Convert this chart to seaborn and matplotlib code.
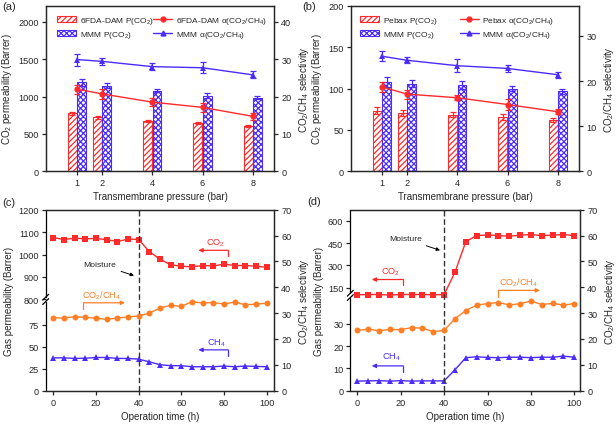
import numpy as np
import pandas as pd
import seaborn as sns
import matplotlib.pyplot as plt
from matplotlib.patches import Patch
from matplotlib.lines import Line2D

sns.set_theme(style='ticks')
plt.rcParams['font.family'] = ['Liberation Sans', 'DejaVu Sans']
plt.rcParams['mathtext.fontset'] = 'custom'
plt.rcParams['mathtext.rm'] = 'Liberation Sans'
plt.rcParams['mathtext.it'] = 'Liberation Sans:italic'
plt.rcParams['mathtext.bf'] = 'Liberation Sans:bold'
plt.rcParams['hatch.linewidth'] = 0.9
plt.rcParams['axes.linewidth'] = 0.9
plt.rcParams['xtick.major.width'] = 0.9
plt.rcParams['ytick.major.width'] = 0.9
plt.rcParams['xtick.major.size'] = 3
plt.rcParams['ytick.major.size'] = 3
plt.rcParams['xtick.labelsize'] = 6.6
plt.rcParams['ytick.labelsize'] = 6.6
plt.rcParams['axes.labelsize'] = 7
plt.rcParams['xtick.major.pad'] = 2
plt.rcParams['ytick.major.pad'] = 2

RED = '#ff2a2a'
BLUE = '#4a2cff'
ORANGE = '#ff7f27'

# ---- (a) 6FDA-DAM vs MMM, pressure series
pressure = [1, 2, 4, 6, 8]
dam_perm = [777, 723, 674, 647, 603]
dam_perm_err = [20, 18, 12, 18, 14]
mmm_a_perm = [1190, 1147, 1080, 1009, 987]
mmm_a_perm_err = [45, 30, 25, 35, 20]
dam_sel = [22.0, 20.7, 18.5, 17.1, 14.7]
dam_sel_err = [1.2, 1.3, 1.0, 1.2, 1.0]
mmm_a_sel = [29.9, 29.4, 28.0, 27.7, 25.8]
mmm_a_sel_err = [1.6, 0.9, 1.0, 1.5, 0.9]

# ---- (b) Pebax vs MMM, pressure series
pebax_perm = [73.4, 70.6, 68.5, 65.9, 61.9]
pebax_perm_err = [4, 3.5, 3, 3.5, 2]
mmm_b_perm = [107.7, 106.0, 104.0, 100.0, 96.5]
mmm_b_perm_err = [6, 4, 4.5, 3.5, 3]
pebax_sel = [18.7, 17.1, 16.3, 14.8, 13.2]
pebax_sel_err = [1.2, 1.0, 0.5, 1.2, 0.6]
mmm_b_sel = [25.5, 24.6, 23.4, 22.8, 21.4]
mmm_b_sel_err = [1.1, 0.7, 1.4, 0.7, 0.7]

# ---- (c)/(d) humidity test over time
hours = list(range(0, 101, 5))
c_co2 = [1075, 1067, 1073, 1070, 1072, 1066, 1058, 1069, 1067, 1013, 979,
         954, 948, 945, 951, 949, 957, 951, 951, 948, 943]
c_sel = [28.2, 28.1, 28.6, 28.4, 28.0, 27.6, 28.1, 28.5, 28.9, 30.0, 32.0,
         33.0, 32.6, 34.4, 33.9, 34.1, 33.5, 34.3, 33.2, 33.5, 33.8]
c_ch4 = [37.3, 37.3, 36.6, 36.9, 37.7, 37.7, 36.6, 36.6, 35.8, 32.8, 29.5,
         28.4, 28.4, 27.2, 27.2, 27.2, 28.0, 27.2, 28.0, 27.6, 27.2]
d_co2 = [103, 105, 105, 101, 105, 105, 105, 103, 105, 255, 461,
         501, 505, 501, 497, 504, 508, 501, 504, 508, 501]
d_sel = [23.3, 23.8, 23.2, 23.7, 23.6, 24.4, 24.2, 22.8, 23.3, 27.9, 31.0,
         33.1, 33.7, 34.1, 33.2, 33.6, 34.7, 33.3, 33.8, 33.1, 33.7]
d_ch4 = [4.3, 4.4, 4.5, 4.3, 4.5, 4.3, 4.4, 4.4, 4.4, 9.4, 14.8,
         15.2, 14.9, 14.8, 15.0, 15.0, 14.8, 15.0, 15.0, 15.5, 15.0]

W, H = 616, 427


def px_axes(fig, left, right, top, bottom):
    return fig.add_axes([left / W, 1 - bottom / H, (right - left) / W, (bottom - top) / H])


def broken_scale(lo_top, hi_start, brk, factor):
    def fwd(v):
        v = np.asarray(v, dtype=float)
        gap = lo_top + (v - lo_top) * (brk - lo_top) / (hi_start - lo_top)
        return np.where(v <= lo_top, v, np.where(v < hi_start, gap, brk + (v - hi_start) / factor))

    def inv(u):
        u = np.asarray(u, dtype=float)
        gap = lo_top + (u - lo_top) * (hi_start - lo_top) / (brk - lo_top)
        return np.where(u <= lo_top, u, np.where(u < brk, gap, hi_start + (u - brk) * factor))
    return fwd, inv


def pressure_panel(ax, names, perm, perm_err, mmm_perm, mmm_perm_err,
                   sel, sel_err, mmm_sel, mmm_sel_err, ylim, yticks, rlim, rticks,
                   leg_x1, leg_x2):
    df = pd.DataFrame({'p': pressure * 2, 'perm': perm + mmm_perm,
                       'grp': [names[0]] * 5 + ['MMM'] * 5})
    sns.barplot(data=df, x='p', y='perm', hue='grp', native_scale=True, width=0.74,
                gap=0.04, errorbar=None, palette=[RED, BLUE], legend=False, ax=ax)
    for cont, col, hatch, err in zip(ax.containers, [RED, BLUE], ['//////', 'xxxxxx'],
                                     [perm_err, mmm_perm_err]):
        xs = []
        for bar in cont:
            bar.set_facecolor('white')
            bar.set_edgecolor(col)
            bar.set_hatch(hatch)
            bar.set_linewidth(0.8)
            xs.append(bar.get_x() + bar.get_width() / 2)
        vals = [b.get_height() for b in cont]
        ax.errorbar(xs, vals, yerr=err, fmt='none', ecolor=col, elinewidth=0.9,
                    capsize=2.3, capthick=0.9)
    ax.set_xlim(-0.25, 8.86)
    ax.set_xticks(pressure)
    ax.set_xticklabels([str(p) for p in pressure])
    ax.set_ylim(*ylim)
    ax.set_yticks(yticks)
    ax.set_xlabel('Transmembrane pressure (bar)', labelpad=3)
    ax.set_ylabel('CO$_2$ permeability (Barrer)', labelpad=3)

    ax2 = ax.twinx()
    sns.lineplot(x=pressure, y=sel, ax=ax2, color=RED, marker='o', markersize=4.5,
                 markeredgewidth=0, lw=1.0)
    ax2.errorbar(pressure, sel, yerr=sel_err, fmt='none', ecolor=RED, elinewidth=0.9,
                 capsize=2.3, capthick=0.9)
    sns.lineplot(x=pressure, y=mmm_sel, ax=ax2, color=BLUE, marker='^', markersize=4.5,
                 markeredgewidth=0, lw=1.0)
    ax2.errorbar(pressure, mmm_sel, yerr=mmm_sel_err, fmt='none', ecolor=BLUE,
                 elinewidth=0.9, capsize=2.3, capthick=0.9)
    ax2.set_ylim(*rlim)
    ax2.set_yticks(rticks)
    ax2.set_ylabel('CO$_2$/CH$_4$ selectivity', labelpad=4)

    bar_handles = [Patch(facecolor='white', edgecolor=RED, hatch='//////', lw=0.8),
                   Patch(facecolor='white', edgecolor=BLUE, hatch='xxxxxx', lw=0.8)]
    line_handles = [Line2D([], [], color=RED, marker='o', markersize=3.5, lw=1.0),
                    Line2D([], [], color=BLUE, marker='^', markersize=3.5, lw=1.0)]
    kw = dict(frameon=False, fontsize=6.0, borderpad=0, borderaxespad=0,
              handlelength=2.25, handleheight=0.8, handletextpad=0.45, labelspacing=0.35)
    leg1 = ax2.legend(bar_handles, [f'{names[0]} P(CO$_2$)', 'MMM P(CO$_2$)'],
                      loc='upper left', bbox_to_anchor=(leg_x1, 0.945), **kw)
    ax2.add_artist(leg1)
    ax2.legend(line_handles, [f'{names[0]} α(CO$_2$/CH$_4$)', 'MMM α(CO$_2$/CH$_4$)'],
               loc='upper left', bbox_to_anchor=(leg_x2, 0.945), **kw)
    return ax2


def bent_arrow(ax, x0, x1, y, ytail, color):
    ax.plot([x0, x0], [ytail, y], color=color, lw=0.9)
    ax.annotate('', xy=(x1, y), xytext=(x0, y),
                arrowprops=dict(arrowstyle='-|>', color=color, lw=0.9,
                                mutation_scale=6, shrinkA=0, shrinkB=0))


def time_panel(ax, co2, sel, ch4, scale, ylim, yticks, xlim, brk_frac):
    fwd, inv = scale
    ax.set_yscale('function', functions=(fwd, inv))
    sns.lineplot(x=hours, y=co2, ax=ax, color=RED, marker='s', markersize=3.8,
                 markeredgewidth=0, lw=1.0)
    sns.lineplot(x=hours, y=ch4, ax=ax, color=BLUE, marker='^', markersize=4.3,
                 markeredgewidth=0, lw=1.0)
    ax.set_ylim(*ylim)
    ax.set_yticks(yticks)
    ax.set_yticklabels([str(t) for t in yticks])
    ax.minorticks_off()
    ax.set_xlim(*xlim)
    ax.set_xticks([0, 20, 40, 60, 80, 100])
    ax.set_xlabel('Operation time (h)', labelpad=3)
    ax.set_ylabel('Gas permeability (Barrer)', labelpad=3)
    ax.axvline(40, color='#333333', lw=1.0, ls=(0, (4, 2)))

    ax2 = ax.twinx()
    sns.lineplot(x=hours, y=sel, ax=ax2, color=ORANGE, marker='o', markersize=4.3,
                 markeredgewidth=0, lw=1.0)
    ax2.set_ylim(0, 70)
    ax2.set_yticks(range(0, 71, 10))
    ax2.set_ylabel('CO$_2$/CH$_4$ selectivity', labelpad=4)

    # broken left axis
    for a in (ax, ax2):
        a.spines['left'].set_visible(False)
    g = 0.012
    spine_kw = dict(transform=ax.transAxes, color='black', lw=0.9, clip_on=False)
    ax.plot([0, 0], [0, brk_frac - g], **spine_kw)
    ax.plot([0, 0], [brk_frac + g, 1], **spine_kw)
    for dy in (-g, g):
        ax.plot([-0.013, 0.013], [brk_frac + dy - 0.016, brk_frac + dy + 0.016], **spine_kw)
    return ax2


fig = plt.figure(figsize=(W / 100, H / 100), dpi=100)

ax_a = px_axes(fig, 45.7, 274.3, 6.7, 172.3)
pressure_panel(ax_a, ['6FDA-DAM'], dam_perm, dam_perm_err, mmm_a_perm, mmm_a_perm_err,
               dam_sel, dam_sel_err, mmm_a_sel, mmm_a_sel_err,
               (0, 2215), [0, 500, 1000, 1500, 2000], (0, 44.3), [0, 10, 20, 30, 40],
               0.051, 0.47)

ax_b = px_axes(fig, 350.7, 579.3, 6.7, 172.3)
pressure_panel(ax_b, ['Pebax'], pebax_perm, pebax_perm_err, mmm_b_perm, mmm_b_perm_err,
               pebax_sel, pebax_sel_err, mmm_b_sel, mmm_b_sel_err,
               (0, 200), [0, 50, 100, 150, 200], (0, 36.7), [0, 10, 20, 30],
               0.041, 0.478)

# (c)
ax_c = px_axes(fig, 45.7, 274.3, 210.7, 391.7)
scale_c = broken_scale(100, 800, 103.7, 3.93)
ax_c2 = time_panel(ax_c, c_co2, c_sel, c_ch4, scale_c, (0, 1200),
                   [0, 25, 50, 75, 800, 900, 1000, 1100, 1200], (-3.6, 103.6),
                   103.7 / float(scale_c[0](1200)))
tk = dict(fontsize=6.6, ha='center', va='center')
ax_c2.text(75.9, 57.4, 'CO$_2$', color=RED, **tk)
bent_arrow(ax_c2, 82, 68, 54.3, 52.0, RED)
ax_c2.text(22.7, 37.3, 'CO$_2$/CH$_4$', color=ORANGE, **tk)
bent_arrow(ax_c2, 14.1, 33.6, 34.0, 31.7, ORANGE)
ax_c2.text(76.3, 18.6, 'CH$_4$', color=BLUE, **tk)
bent_arrow(ax_c2, 82, 68, 15.8, 13.5, BLUE)
ax_c2.annotate('Moisture', xy=(37.8, 44.5), xytext=(21.9, 48.8), fontsize=6.1,
               ha='center', va='center',
               arrowprops=dict(arrowstyle='-|>', color='black', lw=0.7,
                               mutation_scale=5, shrinkA=1, shrinkB=0))

# (d)
ax_d = px_axes(fig, 350.3, 580.3, 210.7, 391.7)
scale_d = broken_scale(40, 99, 42.7, 15)
ax_d2 = time_panel(ax_d, d_co2, d_sel, d_ch4, scale_d, (0, 675),
                   [0, 10, 20, 30, 150, 300, 450, 600], (-3.3, 102.8),
                   42.7 / float(scale_d[0](675)))
ax_d2.text(15.1, 46.2, 'CO$_2$', color=RED, **tk)
bent_arrow(ax_d2, 21.2, 6.6, 43.0, 40.7, RED)
ax_d2.text(74.2, 42.3, 'CO$_2$/CH$_4$', color=ORANGE, **tk)
bent_arrow(ax_d2, 65.0, 84.2, 38.8, 36.3, ORANGE)
ax_d2.text(15.5, 13.5, 'CH$_4$', color=BLUE, **tk)
bent_arrow(ax_d2, 21.2, 6.6, 9.6, 7.3, BLUE)
ax_d2.annotate('Moisture', xy=(38.1, 54.3), xytext=(22.1, 58.7), fontsize=6.1,
               ha='center', va='center',
               arrowprops=dict(arrowstyle='-|>', color='black', lw=0.7,
                               mutation_scale=5, shrinkA=1, shrinkB=0))

# panel labels
for lbl, x, y in [('(a)', 2, 7), ('(b)', 302, 7), ('(c)', 2, 203), ('(d)', 307, 202)]:
    fig.text(x / W, 1 - y / H, lbl, fontsize=8, ha='left', va='center')

fig.savefig('out.png', dpi=100)
